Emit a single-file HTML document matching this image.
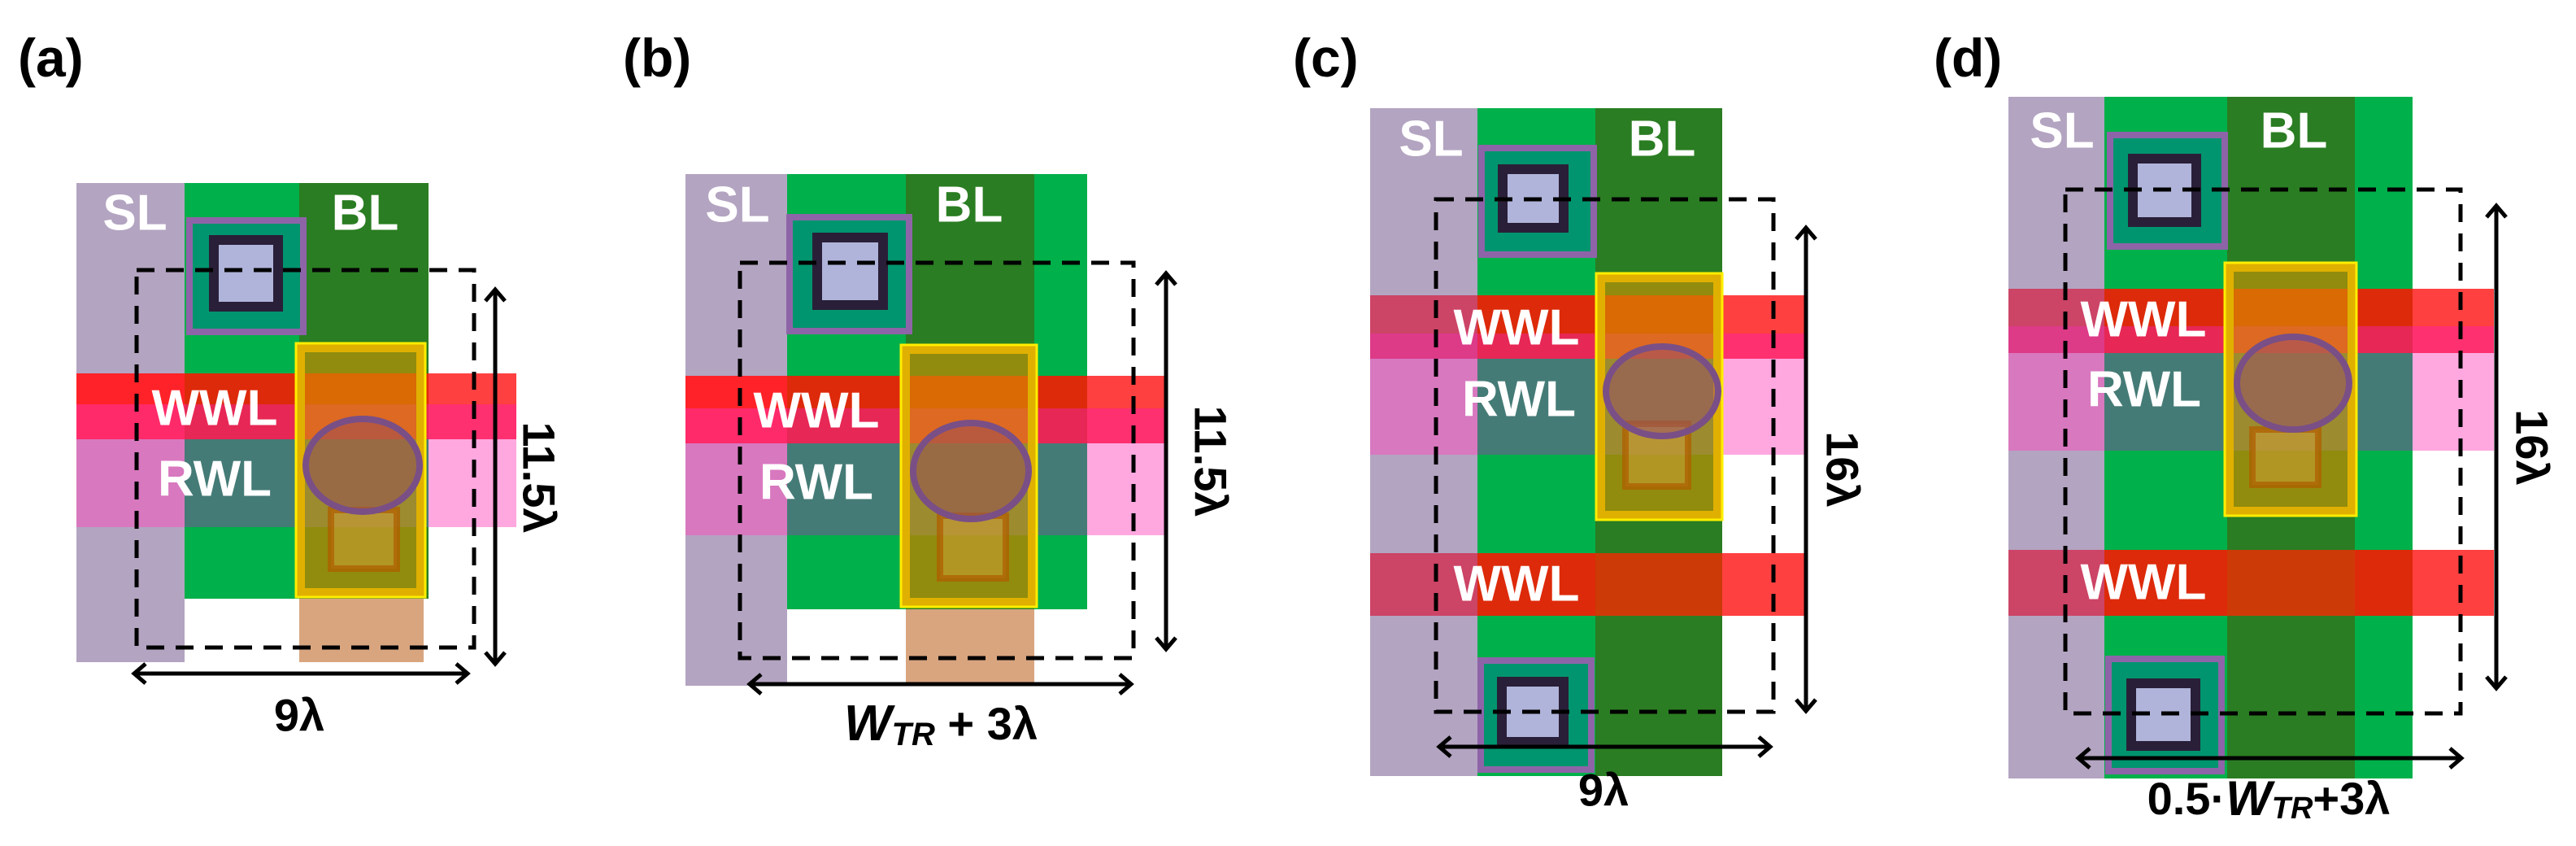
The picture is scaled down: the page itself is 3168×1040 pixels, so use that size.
<!DOCTYPE html>
<html><head><meta charset="utf-8"><style>
html,body{margin:0;padding:0;background:#fff;width:3168px;height:1040px;overflow:hidden}
svg{display:block}
text{font-family:"Liberation Sans",sans-serif;font-weight:bold}
.lab{fill:#fff;font-size:62px;text-anchor:middle;dominant-baseline:central}
.dim{fill:#000;font-size:56px;text-anchor:middle;dominant-baseline:central}
.pl{fill:#000;font-size:66px}
.dash{fill:none;stroke:#000;stroke-width:5;stroke-dasharray:22,14}
.ar{fill:none;stroke:#000;stroke-width:5}
</style></head><body>
<svg width="3168" height="1040" viewBox="0 0 3168 1040" xmlns="http://www.w3.org/2000/svg">

<!-- ================= PANEL A ================= -->
<text class="pl" x="22" y="94">(a)</text>
<rect x="94" y="225" width="133" height="589" fill="#b3a4c1"/>
<rect x="227" y="225" width="300" height="511" fill="#00b04a"/>
<rect x="368" y="225" width="159" height="511" fill="#2a7d22"/>
<rect x="368" y="736" width="153" height="78" fill="#d9a57f"/>
<rect x="233" y="271" width="140" height="137" fill="#00956e" stroke="#8e64a8" stroke-width="8"/>
<rect x="263" y="295" width="79" height="82" fill="#b0b4da" stroke="#2a1f38" stroke-width="12"/>
<rect x="94" y="459" width="133" height="38" fill="#ff2228"/>
<rect x="227" y="459" width="300" height="38" fill="#dd2a0a"/>
<rect x="527" y="459" width="108" height="38" fill="#ff4040"/>
<rect x="94" y="497" width="133" height="43" fill="#ff2a6a"/>
<rect x="227" y="497" width="300" height="43" fill="#e72755"/>
<rect x="527" y="497" width="108" height="43" fill="#ff3070"/>
<rect x="94" y="540" width="133" height="108" fill="#d878bf"/>
<rect x="227" y="540" width="300" height="108" fill="#457b76"/>
<rect x="527" y="540" width="108" height="108" fill="#ffa8e0"/>
<rect x="369" y="427" width="149" height="302" fill="rgba(215,150,0,0.6)" stroke="#e0b000" stroke-width="12"/>
<rect x="364" y="422" width="159" height="312" fill="none" stroke="#ffee00" stroke-width="3"/>
<rect x="407" y="627" width="81" height="72" fill="rgba(210,160,60,0.5)" stroke="rgba(175,95,0,0.75)" stroke-width="8"/>
<ellipse cx="446" cy="572" rx="70" ry="57" fill="rgba(150,75,90,0.5)" stroke="#7a4f86" stroke-width="8"/>
<text class="lab" x="166" y="262">SL</text>
<text class="lab" x="449" y="262">BL</text>
<text class="lab" x="264" y="502">WWL</text>
<text class="lab" x="264" y="589">RWL</text>
<rect class="dash" x="168" y="332" width="415" height="464"/>
<line class="ar" x1="609" y1="357" x2="609" y2="815"/>
<polyline class="ar" points="597,370 609,356 621,370"/>
<polyline class="ar" points="597,802 609,816 621,802"/>
<line class="ar" x1="165" y1="828" x2="575" y2="828"/>
<polyline class="ar" points="179,816 165,828 179,840"/>
<polyline class="ar" points="561,816 575,828 561,840"/>
<text class="dim" x="368" y="879">9λ</text>
<text class="dim" transform="translate(663,587) rotate(90)">11.5λ</text>

<!-- ================= PANEL B ================= -->
<text class="pl" x="766" y="94">(b)</text>
<rect x="843" y="214" width="125" height="629" fill="#b3a4c1"/>
<rect x="968" y="214" width="369" height="535" fill="#00b04a"/>
<rect x="1114" y="214" width="158" height="535" fill="#2a7d22"/>
<rect x="1114" y="749" width="158" height="94" fill="#d9a57f"/>
<rect x="971" y="267" width="147" height="140" fill="#00956e" stroke="#8e64a8" stroke-width="8"/>
<rect x="1005" y="292" width="81" height="83" fill="#b0b4da" stroke="#2a1f38" stroke-width="12"/>
<rect x="843" y="462" width="125" height="40" fill="#ff2228"/>
<rect x="968" y="462" width="369" height="40" fill="#dd2a0a"/>
<rect x="1337" y="462" width="96" height="40" fill="#ff4040"/>
<rect x="843" y="502" width="125" height="43" fill="#ff2a6a"/>
<rect x="968" y="502" width="369" height="43" fill="#e72755"/>
<rect x="1337" y="502" width="96" height="43" fill="#ff3070"/>
<rect x="843" y="545" width="125" height="113" fill="#d878bf"/>
<rect x="968" y="545" width="369" height="113" fill="#457b76"/>
<rect x="1337" y="545" width="96" height="113" fill="#ffa8e0"/>
<rect x="1113" y="429" width="157" height="312" fill="rgba(215,150,0,0.6)" stroke="#e0b000" stroke-width="12"/>
<rect x="1108" y="424" width="167" height="322" fill="none" stroke="#ffee00" stroke-width="3"/>
<rect x="1156" y="634" width="81" height="77" fill="rgba(210,160,60,0.5)" stroke="rgba(175,95,0,0.75)" stroke-width="8"/>
<ellipse cx="1194" cy="579" rx="71" ry="59" fill="rgba(150,75,90,0.5)" stroke="#7a4f86" stroke-width="8"/>
<text class="lab" x="907" y="252">SL</text>
<text class="lab" x="1192" y="252">BL</text>
<text class="lab" x="1004" y="505">WWL</text>
<text class="lab" x="1004" y="593">RWL</text>
<rect class="dash" x="910" y="323" width="484" height="486"/>
<line class="ar" x1="1434" y1="337" x2="1434" y2="797"/>
<polyline class="ar" points="1422,350 1434,336 1446,350"/>
<polyline class="ar" points="1422,784 1434,798 1446,784"/>
<line class="ar" x1="922" y1="841" x2="1391" y2="841"/>
<polyline class="ar" points="936,829 922,841 936,853"/>
<polyline class="ar" points="1377,829 1391,841 1377,853"/>
<text class="dim" x="1157" y="889"><tspan font-style="italic" font-size="62">W</tspan><tspan font-style="italic" font-size="40" dy="14">TR</tspan><tspan dy="-14"> + 3λ</tspan></text>
<text class="dim" transform="translate(1489,567) rotate(90)">11.5λ</text>

<!-- ================= PANEL C ================= -->
<text class="pl" x="1590" y="94">(c)</text>
<rect x="1685" y="133" width="132" height="821" fill="#b3a4c1"/>
<rect x="1817" y="133" width="301" height="821" fill="#00b04a"/>
<rect x="1962" y="133" width="156" height="821" fill="#2a7d22"/>
<rect x="1822" y="182" width="138" height="131" fill="#00956e" stroke="#8e64a8" stroke-width="8"/>
<rect x="1848" y="208" width="75" height="72" fill="#b0b4da" stroke="#2a1f38" stroke-width="12"/>
<rect x="1821" y="812" width="136" height="134" fill="#00956e" stroke="#8e64a8" stroke-width="8"/>
<rect x="1847" y="838" width="76" height="74" fill="#b0b4da" stroke="#2a1f38" stroke-width="12"/>
<rect x="1685" y="363" width="132" height="47" fill="#cc4466"/>
<rect x="1817" y="363" width="301" height="47" fill="#dd2a0a"/>
<rect x="2118" y="363" width="105" height="47" fill="#ff4040"/>
<rect x="1685" y="410" width="132" height="31" fill="#dd3a88"/>
<rect x="1817" y="410" width="301" height="31" fill="#e72755"/>
<rect x="2118" y="410" width="105" height="31" fill="#ff3070"/>
<rect x="1685" y="441" width="132" height="118" fill="#d878bf"/>
<rect x="1817" y="441" width="301" height="118" fill="#457b76"/>
<rect x="2118" y="441" width="105" height="118" fill="#ffa8e0"/>
<rect x="1685" y="680" width="132" height="77" fill="#cc4466"/>
<rect x="1817" y="680" width="145" height="77" fill="#dd2a0a"/>
<rect x="1962" y="680" width="156" height="77" fill="#cc3a08"/>
<rect x="2118" y="680" width="105" height="77" fill="#ff4040"/>
<rect x="1968" y="341" width="145" height="293" fill="rgba(215,150,0,0.6)" stroke="#e0b000" stroke-width="12"/>
<rect x="1963" y="336" width="155" height="303" fill="none" stroke="#ffee00" stroke-width="3"/>
<rect x="1999" y="521" width="77" height="77" fill="rgba(210,160,60,0.5)" stroke="rgba(175,95,0,0.75)" stroke-width="8"/>
<ellipse cx="2044" cy="481" rx="69" ry="55" fill="rgba(150,75,110,0.5)" stroke="#7a4f86" stroke-width="8"/>
<text class="lab" x="1760" y="171">SL</text>
<text class="lab" x="2044" y="171">BL</text>
<text class="lab" x="1865" y="403">WWL</text>
<text class="lab" x="1868" y="491">RWL</text>
<text class="lab" x="1865" y="718">WWL</text>
<rect class="dash" x="1766" y="245" width="415" height="630"/>
<line class="ar" x1="2221" y1="281" x2="2221" y2="873"/>
<polyline class="ar" points="2209,294 2221,280 2233,294"/>
<polyline class="ar" points="2209,860 2221,874 2233,860"/>
<line class="ar" x1="1770" y1="918" x2="2177" y2="918"/>
<polyline class="ar" points="1784,906 1770,918 1784,930"/>
<polyline class="ar" points="2163,906 2177,918 2163,930"/>
<text class="dim" x="1972" y="971">9λ</text>
<text class="dim" transform="translate(2266,577) rotate(90)">16λ</text>

<!-- ================= PANEL D ================= -->
<text class="pl" x="2378" y="94">(d)</text>
<rect x="2470" y="119" width="118" height="838" fill="#b3a4c1"/>
<rect x="2588" y="119" width="379" height="838" fill="#00b04a"/>
<rect x="2739" y="119" width="157" height="838" fill="#2a7d22"/>
<rect x="2595" y="166" width="141" height="137" fill="#00956e" stroke="#8e64a8" stroke-width="8"/>
<rect x="2623" y="195" width="78" height="78" fill="#b0b4da" stroke="#2a1f38" stroke-width="12"/>
<rect x="2593" y="810" width="139" height="138" fill="#00956e" stroke="#8e64a8" stroke-width="8"/>
<rect x="2621" y="840" width="79" height="77" fill="#b0b4da" stroke="#2a1f38" stroke-width="12"/>
<rect x="2470" y="355" width="118" height="46" fill="#cc4466"/>
<rect x="2588" y="355" width="379" height="46" fill="#dd2a0a"/>
<rect x="2967" y="355" width="100" height="46" fill="#ff4040"/>
<rect x="2470" y="401" width="118" height="33" fill="#dd3a88"/>
<rect x="2588" y="401" width="379" height="33" fill="#e72755"/>
<rect x="2967" y="401" width="100" height="33" fill="#ff3070"/>
<rect x="2470" y="434" width="118" height="120" fill="#d878bf"/>
<rect x="2588" y="434" width="379" height="120" fill="#457b76"/>
<rect x="2967" y="434" width="100" height="120" fill="#ffa8e0"/>
<rect x="2470" y="676" width="118" height="81" fill="#cc4466"/>
<rect x="2588" y="676" width="151" height="81" fill="#dd2a0a"/>
<rect x="2739" y="676" width="157" height="81" fill="#cc3a08"/>
<rect x="2896" y="676" width="71" height="81" fill="#dd2a0a"/>
<rect x="2967" y="676" width="100" height="81" fill="#ff4040"/>
<rect x="2741" y="328" width="152" height="301" fill="rgba(215,150,0,0.6)" stroke="#e0b000" stroke-width="12"/>
<rect x="2736" y="323" width="162" height="311" fill="none" stroke="#ffee00" stroke-width="3"/>
<rect x="2770" y="528" width="81" height="68" fill="rgba(210,160,60,0.5)" stroke="rgba(175,95,0,0.75)" stroke-width="8"/>
<ellipse cx="2820" cy="471" rx="69" ry="57" fill="rgba(150,75,110,0.5)" stroke="#7a4f86" stroke-width="8"/>
<text class="lab" x="2536" y="161">SL</text>
<text class="lab" x="2821" y="161">BL</text>
<text class="lab" x="2636" y="393">WWL</text>
<text class="lab" x="2637" y="479">RWL</text>
<text class="lab" x="2636" y="716">WWL</text>
<rect class="dash" x="2540" y="233" width="486" height="644"/>
<line class="ar" x1="3070" y1="254" x2="3070" y2="845"/>
<polyline class="ar" points="3058,267 3070,253 3082,267"/>
<polyline class="ar" points="3058,832 3070,846 3082,832"/>
<line class="ar" x1="2556" y1="932" x2="3027" y2="932"/>
<polyline class="ar" points="2570,920 2556,932 2570,944"/>
<polyline class="ar" points="3013,920 3027,932 3013,944"/>
<text class="dim" x="2790" y="981"><tspan>0.5·</tspan><tspan font-style="italic" font-size="60">W</tspan><tspan font-style="italic" font-size="38" dy="13">TR</tspan><tspan dy="-13">+3λ</tspan></text>
<text class="dim" transform="translate(3114,550) rotate(90)">16λ</text>
</svg>
</body></html>
